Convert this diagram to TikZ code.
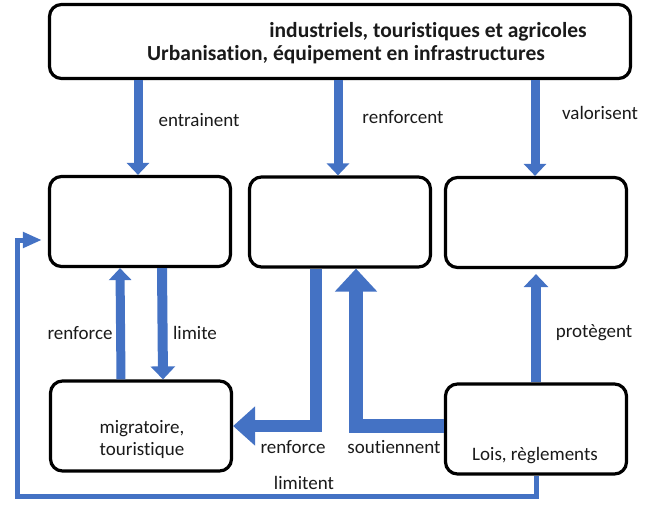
\documentclass[tikz,border=0pt]{standalone}
\usepackage{fontspec}
\setmainfont{Carlito}[Ligatures=NoCommon]
\usetikzlibrary{arrows.meta,calc}
\definecolor{obl}{HTML}{4472C4}
\definecolor{txt}{HTML}{1A1A1A}
\tikzset{
  box/.style={draw=black,line width=3.2pt,rounded corners=12pt,fill=white,minimum width=181pt,minimum height=90pt,inner sep=0pt},
  lbl/.style={text=txt,font=\fontsize{19}{22}\selectfont,inner sep=0pt},
  ttl/.style={text=txt,font=\bfseries\fontsize{21.5}{24}\selectfont,inner sep=0pt},
  blu/.style={draw=obl,line join=miter,line cap=butt},
  smallarr/.style={blu,line width=9pt,-{Triangle[width=22pt,length=12pt]}},
  medarr/.style={blu,line width=10pt,-{Triangle[width=24pt,length=13pt]}},
  fatarrA/.style={blu,line width=12pt,-{Triangle[width=38pt,length=22pt]}},
  fatarrB/.style={blu,line width=14pt,-{Triangle[width=41pt,length=23pt]}},
  thinarr/.style={blu,line width=5pt,-{Triangle[width=15pt,length=19pt]}}
}
\begin{document}
\begin{tikzpicture}[x=1pt,y=-1pt]
\useasboundingbox (0,0) rectangle (645,506);
% boxes
\node[box,minimum width=581pt,minimum height=74pt] (top) at (340,41.5) {};
\node[box] (b1) at (140,221.5) {};
\node[box] (b2) at (340,222) {};
\node[box] (b3) at (536,222.5) {};
\node[box] (b4) at (141,426) {};
\node[box] (b5) at (536,429) {};
% texts
\node[ttl] (t1) at (428,32) {industriels, touristiques et agricoles};
\node[ttl] (t2) at (346,55) {Urbanisation, équipement en infrastructures};
\node[lbl,align=center] (t4) at (142,439) {migratoire,\\touristique};
\node[lbl] (t5) at (535,456) {Lois, règlements};
% arrows from top
\draw[smallarr] ([xshift=-2pt]b1.north |- top.south) -- ([xshift=-2pt]b1.north);
\draw[smallarr] ([xshift=-2pt]b2.north |- top.south) -- ([xshift=-2pt]b2.north);
\draw[smallarr] ([xshift=-1pt]b3.north |- top.south) -- ([xshift=-1pt]b3.north);
% between b1 and b4
\draw[smallarr] ([xshift=-20pt]b4.north) -- ([xshift=-20pt]b1.south);
\draw[medarr] ([xshift=22pt]b1.south) -- ([xshift=22pt]b4.north);
% b2 -> b4
\draw[fatarrA] ([xshift=-24pt]b2.south) |- (b4.east);
% b5 -> b2
\draw[fatarrB] ([yshift=3pt]b5.west) -| ([xshift=16pt]b2.south);
% b5 -> b3
\draw[medarr,shorten >=5pt] (b5.north) -- (b3.south);
% b5 -> b1 (limitent)
\coordinate (lc) at (17,496);
\draw[thinarr,shorten >=6pt] (b5.south) |- (lc) |- ([yshift=-18.5pt]b1.west);
% labels
\node[lbl] (l1) at (199,120) {entrainent};
\node[lbl] (l2) at (403,117) {renforcent};
\node[lbl] (l3) at (600,113) {valorisent};
\node[lbl] (l4) at (80,333) {renforce};
\node[lbl] (l5) at (195,333) {limite};
\node[lbl] (l6) at (594,333) {protègent};
\node[lbl] (l7) at (293,447) {renforce};
\node[lbl] (l8) at (394,447) {soutiennent};
\node[lbl] (l9) at (304,483) {limitent};
\end{tikzpicture}
\end{document}
